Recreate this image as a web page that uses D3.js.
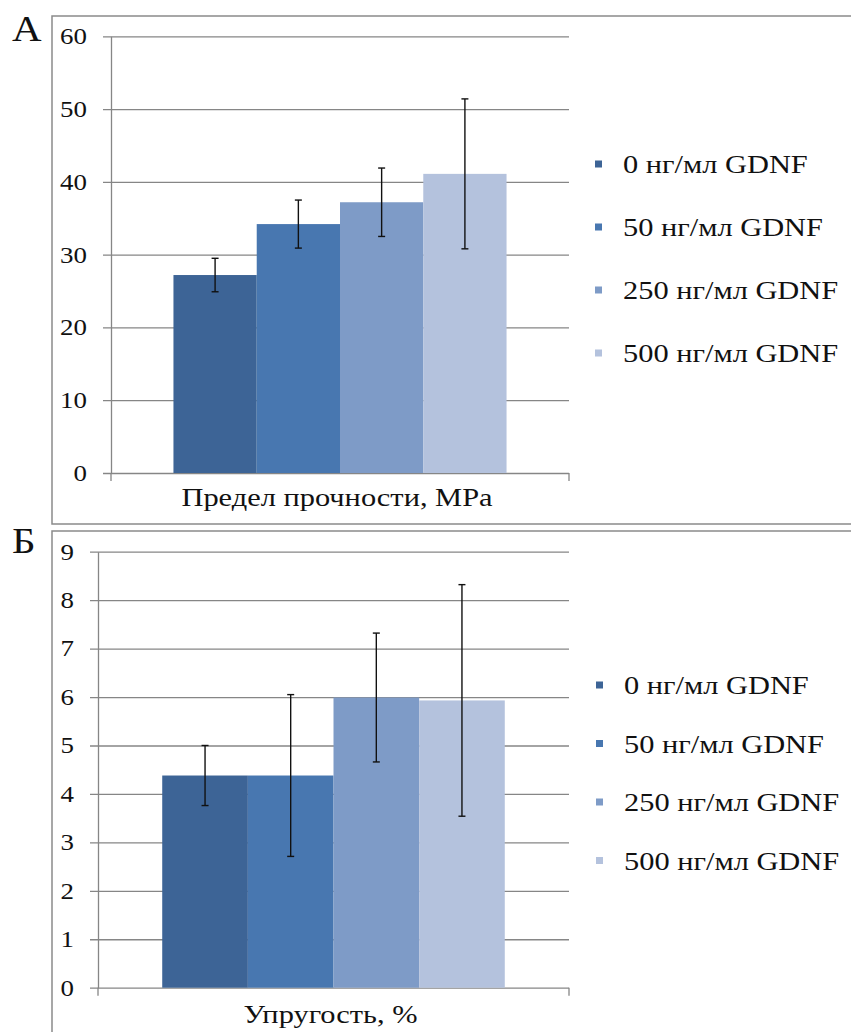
<!DOCTYPE html>
<html>
<head>
<meta charset="utf-8">
<script src="https://cdn.jsdelivr.net/npm/d3@7"></script>
<style>
  body { margin: 0; background: #fff; }
  svg { display: block; }
  text { font-family: "Liberation Serif", "Times New Roman", serif; }
</style>
</head>
<body>
<svg id="chart" width="851" height="1032"></svg>
<script>
// groups (legend)
const groups = ["0 нг/мл GDNF", "50 нг/мл GDNF", "250 нг/мл GDNF", "500 нг/мл GDNF"];
const colors = ["#3d6496", "#4877b0", "#7e9bc7", "#b4c2dd"];

// panel A: tensile strength
const strengthMean = [27.2, 34.2, 37.2, 41.1];
const strengthErr = [2.3, 3.3, 4.7, 10.3];
const strengthTicks = [0, 10, 20, 30, 40, 50, 60];

// panel Б: elasticity
const elasticityMean = [4.38, 4.38, 5.99, 5.93];
const elasticityErr = [0.62, 1.67, 1.33, 2.39];
const elasticityTicks = [0, 1, 2, 3, 4, 5, 6, 7, 8, 9];

const SX = 1.17; // source picture is stretched horizontally
const FONT = "'Liberation Serif', 'Times New Roman', serif";
const svg = d3.select("#chart");

function stretchedText(parent, x, y, str, size, anchor) {
  return parent.append("g")
    .attr("transform", "translate(" + x + "," + y + ") scale(" + SX + ",1)")
    .append("text")
    .attr("text-anchor", anchor || "start")
    .attr("font-family", FONT)
    .attr("font-size", size)
    .attr("fill", "#111")
    .text(str);
}

function drawPanel(p) {
  let g = svg.append("g");

  // outer frame (runs off the right edge / bottom)
  g.append("rect")
    .attr("x", 52).attr("y", p.boxTop)
    .attr("width", 900).attr("height", p.boxH)
    .attr("fill", "none")
    .attr("stroke", "#8a8a8a")
    .attr("stroke-width", 1.5);

  stretchedText(g, 12, p.letterY, p.letter, 35, "start");

  let y = d3.scaleLinear().domain([0, d3.max(p.ticks)]).range([p.bottom, p.top]);
  let x = d3.scaleBand().domain(groups).range([p.left, p.right]).paddingInner(0).paddingOuter(0.75);
  let w = p.right - p.left;

  // y axis with gridlines
  let yAxis = d3.axisLeft(y).tickValues(p.ticks).tickSizeInner(-w).tickSizeOuter(0).tickPadding(24);
  let ax = g.append("g")
    .attr("transform", "translate(" + p.left + ",0)")
    .call(yAxis)
    .attr("font-family", FONT);
  ax.select(".domain").attr("stroke", "#868686").attr("stroke-width", 1.3);
  ax.selectAll(".tick line").attr("x1", -8).attr("stroke", "#868686").attr("stroke-width", 1.3);
  ax.selectAll(".tick text")
    .attr("x", -24 / SX)
    .attr("transform", "scale(" + SX + ",1)")
    .attr("font-size", 23)
    .attr("font-family", FONT)
    .attr("fill", "#111");

  // category boundary ticks under the axis
  g.selectAll(".cat-tick")
    .data([p.left, p.right])
    .enter()
    .append("line")
    .attr("x1", d => d).attr("x2", d => d)
    .attr("y1", y(0)).attr("y2", y(0) + 8)
    .attr("stroke", "#868686").attr("stroke-width", 1.3);

  // bars
  g.selectAll(".bar")
    .data(p.mean)
    .enter()
    .append("rect")
    .attr("x", (d, i) => x(groups[i]))
    .attr("y", d => y(d))
    .attr("width", x.bandwidth())
    .attr("height", d => y(0) - y(d))
    .attr("fill", (d, i) => colors[i]);

  // error bars
  let eb = g.selectAll(".err")
    .data(p.mean.map((m, i) => ({m: m, e: p.err[i], cx: x(groups[i]) + x.bandwidth() / 2})))
    .enter()
    .append("g");
  eb.append("line")
    .attr("x1", d => d.cx).attr("x2", d => d.cx)
    .attr("y1", d => y(d.m + d.e)).attr("y2", d => y(d.m - d.e))
    .attr("stroke", "#111").attr("stroke-width", 1.4);
  eb.append("line")
    .attr("x1", d => d.cx - 3.5).attr("x2", d => d.cx + 3.5)
    .attr("y1", d => y(d.m + d.e)).attr("y2", d => y(d.m + d.e))
    .attr("stroke", "#111").attr("stroke-width", 1.4);
  eb.append("line")
    .attr("x1", d => d.cx - 3.5).attr("x2", d => d.cx + 3.5)
    .attr("y1", d => y(d.m - d.e)).attr("y2", d => y(d.m - d.e))
    .attr("stroke", "#111").attr("stroke-width", 1.4);

  // category title
  stretchedText(g, (p.left + p.right) / 2 - 3, p.titleY, p.title, 26, "middle");

  // legend
  let lg = g.selectAll(".legend")
    .data(groups)
    .enter()
    .append("g")
    .attr("transform", (d, i) => "translate(" + p.legendX + "," + (p.legendY + i * p.legendStep) + ")");
  lg.append("rect")
    .attr("x", 0).attr("y", -3.5)
    .attr("width", 7).attr("height", 7)
    .attr("fill", (d, i) => colors[i]);
  lg.each(function(d) {
    stretchedText(d3.select(this), 28, 9, d, 26, "start");
  });
}

drawPanel({
  letter: "А", letterY: 41, boxTop: 16, boxH: 508,
  left: 111, right: 569, top: 36.3, bottom: 473,
  ticks: strengthTicks, mean: strengthMean, err: strengthErr,
  title: "Предел прочности, МРа", titleY: 506,
  legendX: 595, legendY: 164, legendStep: 63
});

drawPanel({
  letter: "Б", letterY: 553, boxTop: 531, boxH: 600,
  left: 98, right: 569, top: 551.7, bottom: 987.7,
  ticks: elasticityTicks, mean: elasticityMean, err: elasticityErr,
  title: "Упругость, %", titleY: 1023,
  legendX: 596, legendY: 685, legendStep: 58.5
});
</script>
</body>
</html>
